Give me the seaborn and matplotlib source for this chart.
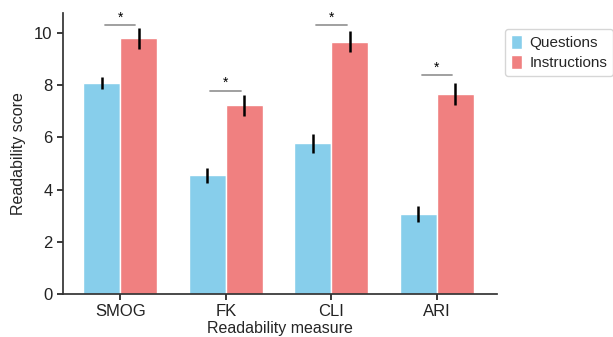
import matplotlib
matplotlib.use("Agg")
import matplotlib.pyplot as plt
import seaborn as sns
import pandas as pd
import numpy as np

# --- DATA ---
measures = ["SMOG", "FK", "CLI", "ARI"]
groups = ["Questions", "Instructions"]
questions_mean = [8.1, 4.55, 5.77, 3.07]
questions_err = [0.23, 0.29, 0.38, 0.31]
instructions_mean = [9.8, 7.23, 9.68, 7.66]
instructions_err = [0.40, 0.40, 0.40, 0.42]
sig_height = [10.3, 7.8, 10.3, 8.4]

COLORS = {"Questions": "#87CEEB", "Instructions": "#F08080"}

sns.set_theme(style="ticks")
plt.rcParams["font.family"] = ["Liberation Sans", "DejaVu Sans"]

df = pd.DataFrame({
    "Measure": measures * 2,
    "Group": ["Questions"] * 4 + ["Instructions"] * 4,
    "Score": questions_mean + instructions_mean,
    "Err": questions_err + instructions_err,
})

fig = plt.figure(figsize=(6.13, 3.37), dpi=100)
ax = fig.add_axes([0.103, 0.128, 0.708, 0.833])

sns.barplot(data=df, x="Measure", y="Score", hue="Group", order=measures,
            hue_order=groups, palette=COLORS, width=0.7, gap=0, errorbar=None,
            saturation=1, ax=ax)

# error bars from the drawn bars
bars = [p for p in ax.patches if p.get_height() > 0][:8]
for i, grp in enumerate(groups):
    sub = df[df["Group"] == grp].set_index("Measure").loc[measures]
    for j, m in enumerate(measures):
        p = bars[i * 4 + j]
        xc = p.get_x() + p.get_width() / 2
        ax.errorbar(xc, sub.loc[m, "Score"], yerr=sub.loc[m, "Err"],
                    fmt="none", ecolor="black", elinewidth=1.8, capsize=0)

# significance markers
for j, h in enumerate(sig_height):
    ax.plot([j - 0.145, j + 0.145], [h, h], color="#999999", lw=1.3)
    ax.text(j, h + 0.02, "*", ha="center", va="bottom", fontsize=10, color="black")

ax.set_xlim(-0.54, 3.57)
ax.set_ylim(0, 10.77)
ax.set_yticks([0, 2, 4, 6, 8, 10])
ax.set_xlabel("Readability measure", fontsize=11.5, labelpad=1)
ax.set_ylabel("Readability score", fontsize=11.5, labelpad=6)
ax.tick_params(labelsize=12, length=4, colors="#222222")
for s in ax.spines.values():
    s.set_color("#333333")
sns.despine(ax=ax)

ax.legend(loc="upper left", bbox_to_anchor=(1.0, 0.97), fontsize=11,
          frameon=True, handlelength=0.7, handleheight=1.0, handletextpad=0.5,
          borderpad=0.4, labelspacing=0.3)

fig.savefig("out.png", dpi=100)
